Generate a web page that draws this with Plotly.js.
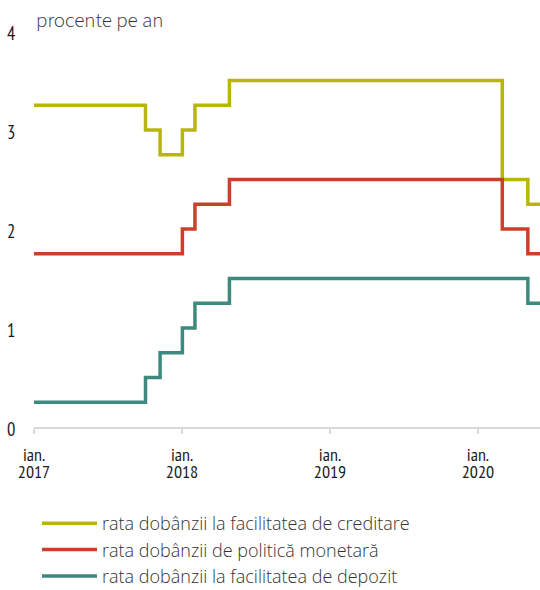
<!DOCTYPE html>
<html>
<head>
<meta charset="utf-8">
<script src="https://cdn.plot.ly/plotly-3.0.1.min.js"></script>
<style>html,body{margin:0;padding:0;background:#fff;}#chart{width:540px;height:590px;}</style>
</head>
<body>
<div id="chart"></div>
<script>
// Step change dates and values (procente pe an)
const creditDates = ["2017-01-01","2017-10-03","2017-11-08","2018-01-02","2018-02-02","2018-04-28","2020-03-01","2020-05-03","2020-06-02"];
const creditValues = [3.25, 3.00, 2.75, 3.00, 3.25, 3.50, 2.50, 2.25, 2.25];

const policyDates = ["2017-01-01","2018-01-02","2018-02-02","2018-04-28","2020-03-01","2020-05-03","2020-06-02"];
const policyValues = [1.75, 2.00, 2.25, 2.50, 2.00, 1.75, 1.75];

const depositDates = ["2017-01-01","2017-10-03","2017-11-08","2018-01-02","2018-02-02","2018-04-28","2020-05-03","2020-06-02"];
const depositValues = [0.25, 0.50, 0.75, 1.00, 1.25, 1.50, 1.25, 1.25];

const seriesNames = [
  "rata dobânzii la facilitatea de creditare",
  "rata dobânzii de politică monetară",
  "rata dobânzii la facilitatea de depozit"
];
const tickDates = ["2017-01-01","2018-01-01","2019-01-01","2020-01-01"];
const tickMonths = ["ian.","ian.","ian.","ian."];
const tickYears = ["2017","2018","2019","2020"];
const yTicks = [0,1,2,3,4];

const colors = ["#b8b60c", "#c9412b", "#3f8a7f"];
const narrow = "'PT Sans Narrow', 'Roboto Condensed', sans-serif";
const light = "'Source Sans 3', 'Source Sans Pro', 'Open Sans', sans-serif";

const traces = [
  {x: creditDates, y: creditValues, name: seriesNames[0]},
  {x: policyDates, y: policyValues, name: seriesNames[1]},
  {x: depositDates, y: depositValues, name: seriesNames[2]}
].map((t, i) => Object.assign(t, {
  type: "scatter", mode: "lines",
  line: {shape: "hv", color: colors[i], width: 3.5},
  hoverinfo: "skip"
}));
// invisible carrier for the second row (years) of the x tick labels
traces.push({x: tickDates, y: [null, null, null, null], xaxis: "x2", yaxis: "y",
  type: "scatter", mode: "lines", showlegend: false, hoverinfo: "skip"});

const xRange = ["2017-01-01", "2020-06-02"];

const layout = {
  width: 540, height: 590,
  margin: {l: 34, r: 0, t: 31, b: 163, autoexpand: false},
  paper_bgcolor: "#fff", plot_bgcolor: "#fff",
  showlegend: true,
  legend: {
    xref: "container", yref: "container",
    x: 37 / 540, xanchor: "left", y: 1 - 505 / 590, yanchor: "top",
    orientation: "v",
    font: {family: "'Open Sans', sans-serif", size: 18, color: "#333", weight: 300},
    itemwidth: 55, tracegroupgap: 0,
    bgcolor: "rgba(0,0,0,0)"
  },
  xaxis: {
    type: "date", range: xRange, automargin: false,
    tickvals: tickDates, ticktext: tickMonths,
    ticks: "outside", ticklen: 5, tickwidth: 2, tickcolor: "#d9d9d9",
    showline: true, linecolor: "#d9d9d9", linewidth: 2,
    showgrid: false, zeroline: false,
    ticklabelstandoff: 5,
    tickfont: {family: narrow, size: 18, color: "#1a1a1a"}
  },
  xaxis2: {
    type: "date", range: xRange, overlaying: "x", anchor: "y", side: "bottom", automargin: false,
    tickvals: tickDates, ticktext: tickYears,
    ticks: "outside", ticklen: 28, tickcolor: "rgba(0,0,0,0)",
    showline: false, showgrid: false, zeroline: false,
    tickfont: {family: narrow, size: 18, color: "#1a1a1a"}
  },
  yaxis: {
    range: [0, 4], automargin: false,
    tickvals: yTicks, ticktext: yTicks.map(String),
    ticks: "outside", ticklen: 14, tickcolor: "rgba(0,0,0,0)",
    ticklabelshift: 3,
    showline: false, showgrid: false, zeroline: false,
    tickfont: {family: narrow, size: 18.5, color: "#1a1a1a"}
  },
  annotations: [{
    text: "procente pe an", xref: "paper", yref: "paper",
    x: 0.0, y: 1.0, xanchor: "left", yanchor: "bottom", yshift: -6,
    showarrow: false,
    font: {family: light, size: 21, color: "#333", weight: 300}
  }]
};

Plotly.newPlot("chart", traces, layout, {displayModeBar: false, staticPlot: true});
</script>
</body>
</html>
